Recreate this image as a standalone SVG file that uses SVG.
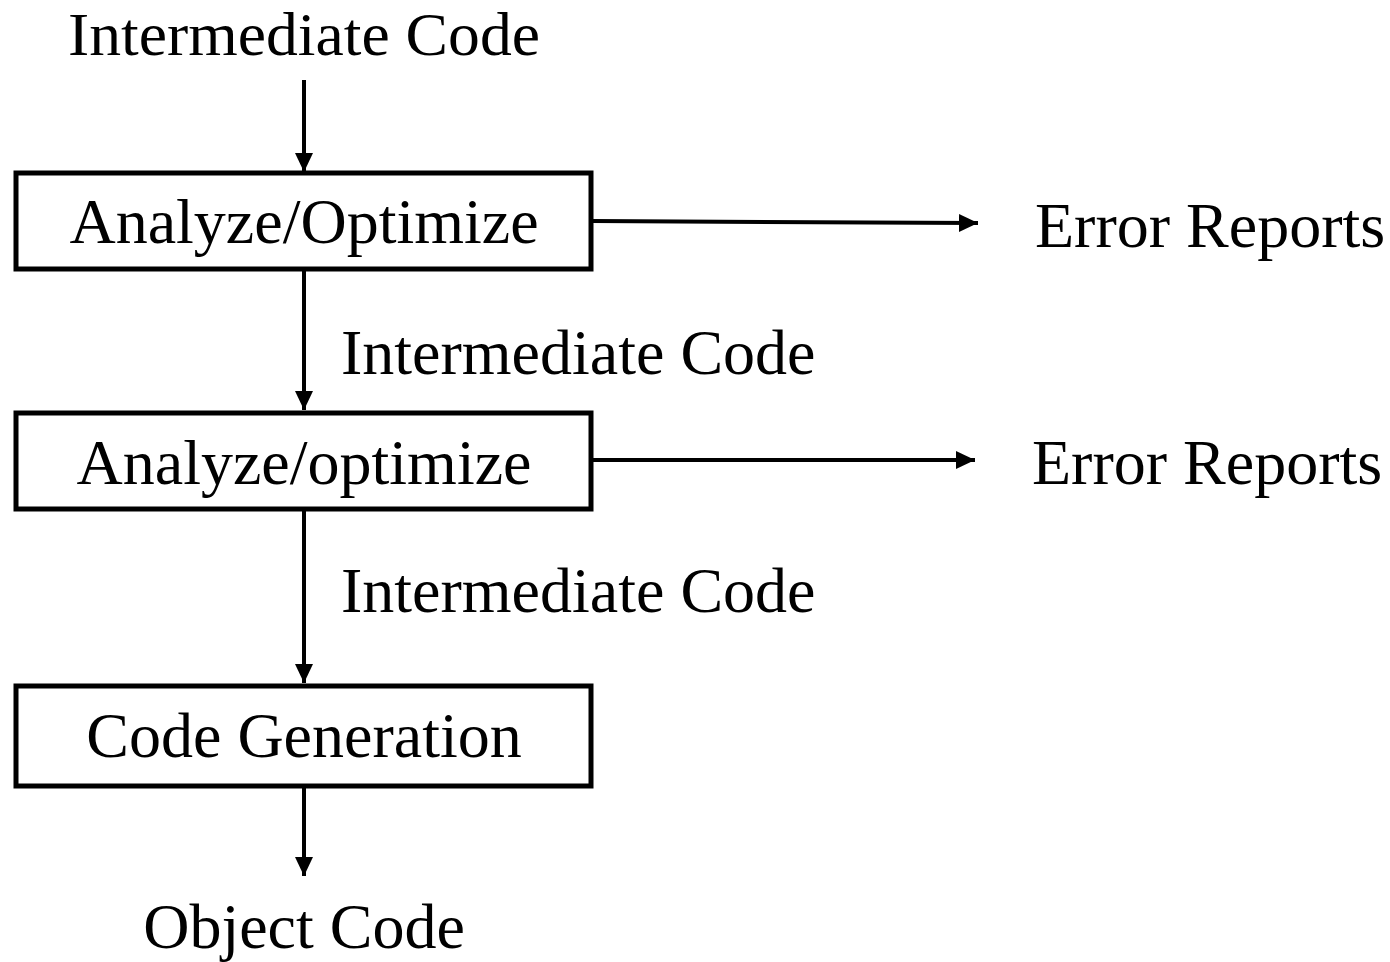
<svg xmlns="http://www.w3.org/2000/svg" width="1390" height="962" viewBox="0 0 1390 962">
<style>
.t{font-family:"Liberation Serif","Times New Roman",serif;font-size:64px;fill:#000}
.c{text-anchor:middle}
.box{fill:#fff;stroke:#000;stroke-width:5}
.ln{stroke:#000;stroke-width:4;fill:none}
</style>
<defs>
<marker id="ah" markerUnits="userSpaceOnUse" markerWidth="20" markerHeight="20" refX="19" refY="10" orient="auto">
<path d="M0,1 L19,10 L0,19 Z" fill="#000"/>
</marker>
</defs>
<rect width="1390" height="962" fill="#fff"/>
<g id="connectors">
<line class="ln" x1="304" y1="80" x2="304" y2="172" marker-end="url(#ah)"/>
<line class="ln" x1="304" y1="269" x2="304" y2="410" marker-end="url(#ah)"/>
<line class="ln" x1="304" y1="510" x2="304" y2="683" marker-end="url(#ah)"/>
<line class="ln" x1="304" y1="787" x2="304" y2="876" marker-end="url(#ah)"/>
<line class="ln" x1="592" y1="221" x2="978" y2="223" marker-end="url(#ah)"/>
<line class="ln" x1="592" y1="460" x2="975" y2="460" marker-end="url(#ah)"/>
</g>
<g id="label-top"><text class="t" x="68" y="55" style="font-size:62px" textLength="472" lengthAdjust="spacingAndGlyphs">Intermediate Code</text></g>
<g id="node-analyze1">
<rect class="box" x="16" y="173" width="575" height="96"/>
<text class="t c" x="304" y="243">Analyze/Optimize</text>
</g>
<g id="label-err1"><text class="t" x="1035" y="247">Error Reports</text></g>
<g id="label-mid1"><text class="t" x="341" y="374">Intermediate Code</text></g>
<g id="node-analyze2">
<rect class="box" x="16" y="413" width="575" height="96"/>
<text class="t c" x="304" y="484">Analyze/optimize</text>
</g>
<g id="label-err2"><text class="t" x="1032" y="484">Error Reports</text></g>
<g id="label-mid2"><text class="t" x="341" y="612">Intermediate Code</text></g>
<g id="node-codegen">
<rect class="box" x="16" y="686" width="575" height="100"/>
<text class="t c" x="304" y="757">Code Generation</text>
</g>
<g id="label-obj"><text class="t c" x="304" y="948">Object Code</text></g>
</svg>
